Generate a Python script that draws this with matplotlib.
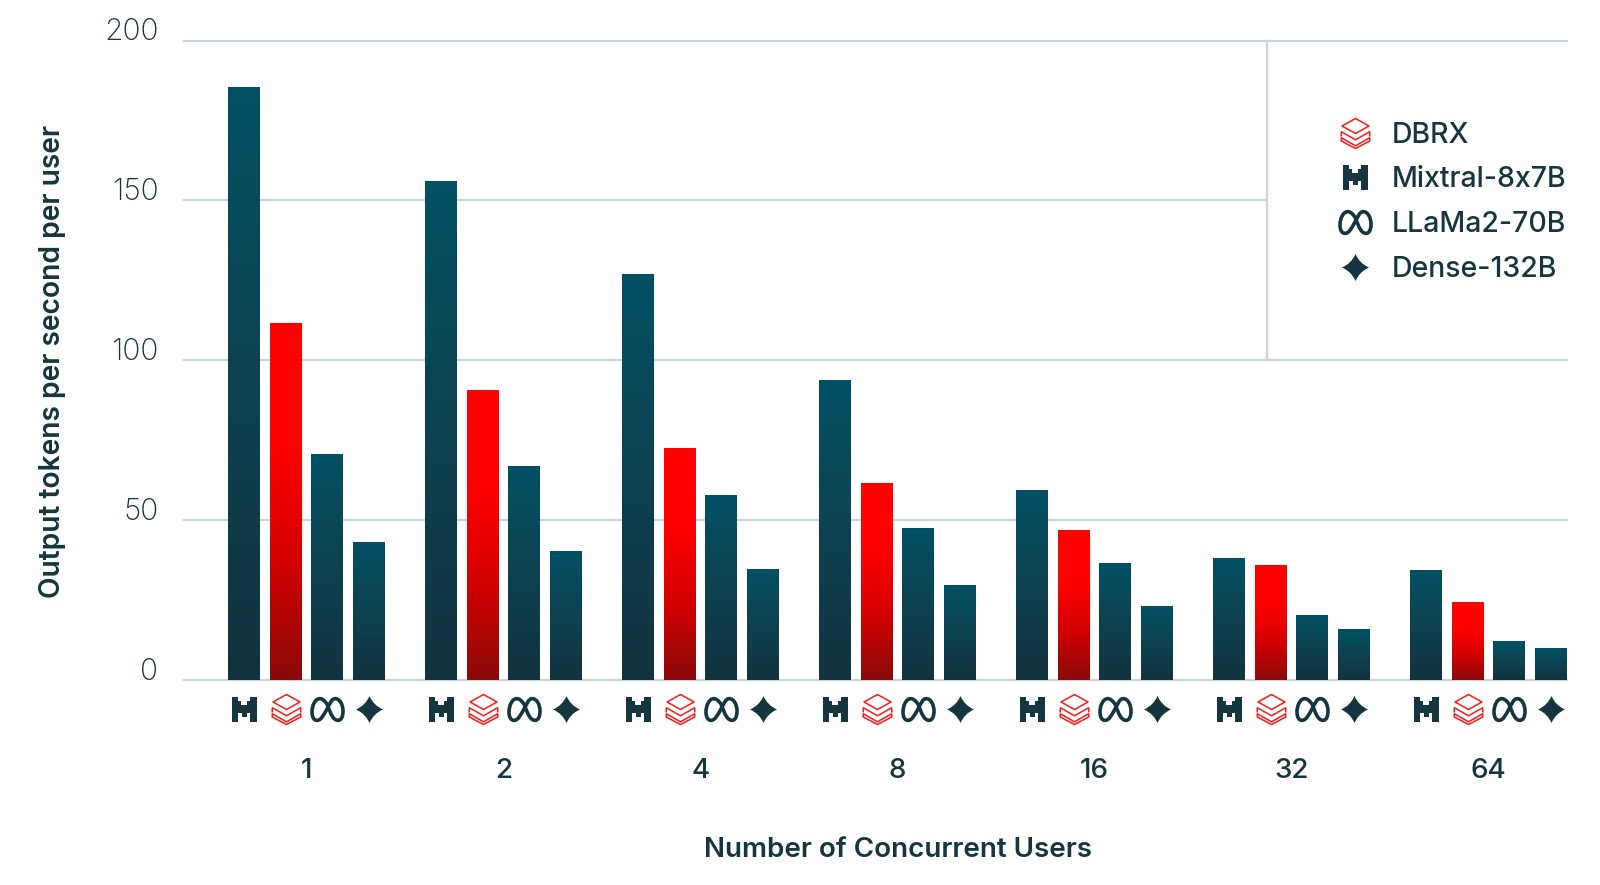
import numpy as np
import matplotlib
matplotlib.use('Agg')
import matplotlib.pyplot as plt
from matplotlib.colors import LinearSegmentedColormap
from matplotlib.path import Path
from matplotlib.patches import Rectangle

W, H = 1600, 885

users = ['1', '2', '4', '8', '16', '32', '64']
mixtral = [185.3, 155.9, 126.9, 93.6, 59.4, 38.0, 34.2]
dbrx = [111.5, 90.4, 72.5, 61.4, 46.7, 35.8, 24.2]
llama = [70.5, 66.7, 57.7, 47.3, 36.3, 20.1, 11.9]
dense = [43.0, 40.2, 34.5, 29.4, 22.9, 15.8, 9.7]
yticks = [0, 50, 100, 150, 200]
legend_names = ['DBRX', 'Mixtral-8x7B', 'LLaMa2-70B', 'Dense-132B']

INK = '#15363f'
GRID = '#c8d4e0'
FONT = 'Inter'

teal = LinearSegmentedColormap.from_list('teal', ['#12333f', '#0e4250', '#015164'])
red = LinearSegmentedColormap.from_list('red', ['#8b0a0a', '#d40000', '#ff0000', '#ff0000'])


# icons, coordinates in -1..1
def mixtral_icon():
    pts = [(-1, 1), (-.5, 1), (-.5, .62), (-.22, .62), (-.22, .3), (.22, .3), (.22, .62),
           (.5, .62), (.5, 1), (1, 1), (1, -1), (.5, -1), (.5, -.3), (.2, -.3), (.2, -.62),
           (-.2, -.62), (-.2, -.3), (-.5, -.3), (-.5, -1), (-1, -1), (-1, 1)]
    return Path(pts, closed=True)


def star_icon():
    c = .3
    v = [(0, 1), (c, c), (1, 0), (c, -c), (0, -1), (-c, -c), (-1, 0), (-c, c), (0, 1)]
    codes = [Path.MOVETO] + [Path.CURVE3, Path.CURVE3] * 4
    return Path(v, codes)


def stack_icon():
    v, c = [], []
    # top rhombus
    for p in [(0, 1), (.9, .5), (0, 0), (-.9, .5), (0, 1)]:
        v.append(p)
    c += [Path.MOVETO] + [Path.LINETO] * 4
    # two chevrons below
    for dy in (0, -.4):
        v += [(-.95, .12 + dy), (0, -.42 + dy), (.95, .12 + dy)]
        c += [Path.MOVETO, Path.LINETO, Path.LINETO]
    v += [(-.95, .12), (-.95, -.2)]
    c += [Path.MOVETO, Path.LINETO]
    v += [(.95, .12), (.95, -.2)]
    c += [Path.MOVETO, Path.LINETO]
    v += [(-.95, -.28), (-.95, -.5), (0, -1), (.95, -.5), (.95, -.28)]
    c += [Path.MOVETO, Path.LINETO, Path.LINETO, Path.LINETO, Path.LINETO]
    return Path(v, c)


def meta_icon():
    # two loops crossing in the middle
    v = [(0, .3),
         (-.2, .6), (-.35, .7), (-.5, .7),
         (-.8, .7), (-1, .25), (-1, -.15),
         (-1, -.5), (-.88, -.7), (-.68, -.7),
         (-.4, -.7), (-.25, -.35), (-.05, 0),
         (.15, .35), (.25, .7), (.5, .7),
         (.8, .7), (1, .3), (1, -.1),
         (1, -.48), (.88, -.7), (.68, -.7),
         (.38, -.7), (.2, -.3), (0, .3)]
    c = [Path.MOVETO] + [Path.CURVE4] * (len(v) - 1)
    return Path(v, c)


ICONS = {'mixtral': mixtral_icon(), 'dbrx': stack_icon(), 'llama': meta_icon(), 'dense': star_icon()}
# size in px, filled or not, line width in pt
ICON_STYLE = {
    'mixtral': dict(ms=25 * .72, mfc=INK, mec=INK, mew=0, color=INK),
    'dbrx': dict(ms=30 * .72, mfc='none', mec='#ff1a1a', mew=1.1, color='#ff1a1a'),
    'llama': dict(ms=31 * .72, mfc='none', mec=INK, mew=2.6, color=INK),
    'dense': dict(ms=27 * .72, mfc=INK, mec=INK, mew=0, color=INK),
}

fig = plt.figure(figsize=(W / 100, H / 100), dpi=100, facecolor='white')
left, right, top, bottom = 183.5, 1567, 40.5, 680
ax = fig.add_axes([left / W, 1 - bottom / H, (right - left) / W, (bottom - top) / H])

spacing = 197.0
center0 = 306.4
ax.set_xlim((left - center0) / spacing, (right - center0) / spacing)
ax.set_ylim(0, 200)

step = 41.7 / spacing
width = 31.7 / spacing
x = np.arange(len(users))
series = [('mixtral', mixtral, teal), ('dbrx', dbrx, red), ('llama', llama, teal), ('dense', dense, teal)]

ax.set_axisbelow(True)
xl = ax.get_xlim()
for k, (name, vals, cmap) in enumerate(series):
    off = (k - 1.5) * step
    for xi, val in zip(x, vals):
        ax.imshow(np.linspace(1, 0, 200).reshape(-1, 1), cmap=cmap, aspect='auto', zorder=3,
                  extent=(xi + off - width / 2, xi + off + width / 2, 0, val), vmin=0, vmax=1)
    # icons under each bar
    ax.plot(x + off, [-0.0453] * len(x), ls='none', marker=ICONS[name], transform=ax.get_xaxis_transform(),
            clip_on=False, **ICON_STYLE[name])
ax.set_xlim(xl)
ax.set_ylim(0, 200)

for s in ax.spines.values():
    s.set_visible(False)
ax.grid(axis='y', color=GRID, lw=1.6, zorder=1)
for gl in ax.get_ygridlines():
    gl.set_clip_on(False)
ax.set_yticks(yticks)
ax.set_yticklabels([str(t) for t in yticks], fontsize=21.5, family=FONT, fontweight='light', color=INK, va='baseline')
ax.tick_params(axis='y', length=0, pad=18)
ax.set_xticks(x)
ax.set_xticklabels(users, fontsize=20, family=FONT, fontweight='medium', color=INK)
ax.tick_params(axis='x', length=0, pad=56)

# legend box hides the 150 line
box_x = (1267 - left) / (right - left)
trans = ax.get_yaxis_transform()
ax.add_patch(Rectangle((box_x, 101), 1.01 - box_x, 98, transform=trans, fc='white', ec='none', zorder=2,
                       clip_on=False))
ax.plot([box_x, box_x], [100, 200], transform=trans, color=GRID, lw=1.6, zorder=2.5, clip_on=False)

legend_y = [132.7, 177, 222, 267]
legend_keys = ['dbrx', 'mixtral', 'llama', 'dense']
leg_ax = fig.add_axes([0, 0, 1, 1], facecolor='none')
leg_ax.set_axis_off()
leg_ax.set_xlim(0, W)
leg_ax.set_ylim(H, 0)
for name, key, ly in zip(legend_names, legend_keys, legend_y):
    leg_ax.plot([1355], [ly], ls='none', marker=ICONS[key], **ICON_STYLE[key])
    leg_ax.text(1392, ly + 10, name, fontsize=20.5, family=FONT, fontweight='medium', color=INK, va='baseline')

fig.text(897.5 / W, 1 - 857 / H, 'Number of Concurrent Users', fontsize=20, family=FONT, fontweight='semibold',
         color=INK, ha='center', va='baseline')
fig.text(53 / W, 1 - 361 / H, 'Output tokens per second per user', fontsize=20.3, family=FONT, fontweight='semibold',
         color=INK, ha='center', va='center', rotation=90)

fig.savefig('out.png', dpi=100)
